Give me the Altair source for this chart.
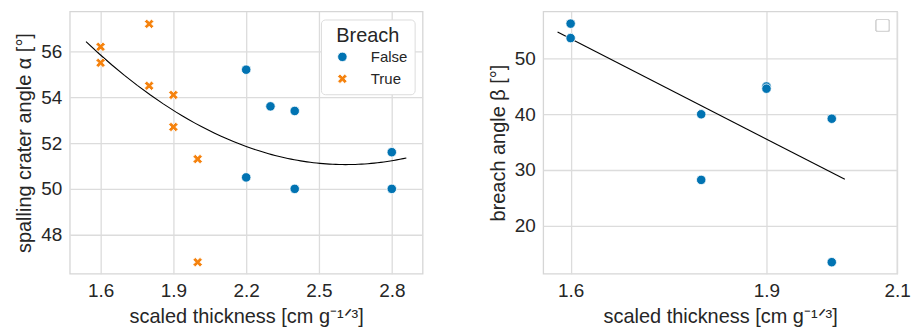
import altair as alt
import pandas as pd

# Spalling crater angle against scaled thickness, split by breach outcome
crater_thickness = [1.6, 1.6, 1.8, 1.8, 1.9, 1.9, 2.0, 2.0,
                    2.2, 2.2, 2.3, 2.4, 2.4, 2.8, 2.8]
crater_angle = [56.2, 55.5, 57.2, 54.5, 54.1, 52.7, 51.3, 46.8,
                55.2, 50.5, 53.6, 53.4, 50.0, 51.6, 50.0]
crater_breach = ["True"] * 8 + ["False"] * 7

# Breach angle against scaled thickness (breached samples only)
breach_thickness = [1.6, 1.6, 1.8, 1.8, 1.9, 1.9, 2.0, 2.0]
breach_angle = [56.3, 53.7, 40.0, 28.2, 45.0, 44.6, 39.2, 13.4]

left_ticks = [1.6, 1.9, 2.2, 2.5, 2.8]
left_yticks = [48, 50, 52, 54, 56]
right_ticks = [1.6, 1.9, 2.1]
right_yticks = [20, 30, 40, 50]

BLUE = "#0173b2"
ORANGE = "#f5820d"
# filled "X" marker
X_SHAPE = ("M-0.5,-1L0,-0.5L0.5,-1L1,-0.5L0.5,0L1,0.5L0.5,1L0,0.5"
           "L-0.5,1L-1,0.5L-0.5,0L-1,-0.5Z")
X_TITLE = "scaled thickness [cm g⁻¹ᐟ³]"

crater = pd.DataFrame({"t": crater_thickness, "a": crater_angle,
                       "Breach": crater_breach})
breach = pd.DataFrame({"t": breach_thickness, "b": breach_angle})

W, H = 354, 263
MARK_SIZE = 90


def x_axis(values):
    return alt.Axis(values=values, format=".1f", labelFlush=False,
                    title=X_TITLE, titlePadding=6)


def y_axis(values, title):
    return alt.Axis(values=values, format="d", title=title, titlePadding=6)


# Left panel: scatter + quadratic fit
lx = alt.X("t:Q", scale=alt.Scale(domain=[1.473, 2.927], nice=False, zero=False),
           axis=x_axis(left_ticks))
ly = alt.Y("a:Q", scale=alt.Scale(domain=[46.3, 57.74], nice=False, zero=False),
           axis=y_axis(left_yticks, "spalling crater angle α [°]"))

left_pts = alt.Chart(crater).mark_point(
    filled=True, opacity=1, stroke="white", strokeWidth=0.8, size=MARK_SIZE
).encode(
    x=lx, y=ly,
    color=alt.Color("Breach:N",
                    scale=alt.Scale(domain=["False", "True"], range=[BLUE, ORANGE]),
                    legend=alt.Legend(orient="top-right", offset=8)),
    shape=alt.Shape("Breach:N",
                    scale=alt.Scale(domain=["False", "True"], range=["circle", X_SHAPE])),
)

left_fit = alt.Chart(crater).transform_regression(
    "t", "a", method="poly", order=2, extent=[1.54, 2.86]
).mark_line(color="black", strokeWidth=1.1).encode(x=lx, y=ly)

left = alt.layer(left_fit, left_pts).properties(width=W, height=H)

# Right panel: scatter + linear fit
rx = alt.X("t:Q", scale=alt.Scale(domain=[1.558, 2.1], nice=False, zero=False),
           axis=x_axis(right_ticks))
ry = alt.Y("b:Q", scale=alt.Scale(domain=[11.34, 58.48], nice=False, zero=False),
           axis=y_axis(right_yticks, "breach angle β [°]"))

right_pts = alt.Chart(breach).mark_point(
    filled=True, opacity=1, color=BLUE, stroke="white", strokeWidth=0.8, size=MARK_SIZE
).encode(x=rx, y=ry)

right_fit = alt.Chart(breach).transform_regression(
    "t", "b", method="linear", extent=[1.58, 2.02]
).mark_line(color="black", strokeWidth=1.1).encode(x=rx, y=ry)

# empty legend frame in the corner
right_box = alt.Chart(breach).mark_rect(
    fill="white", stroke="#d6d6d6", strokeWidth=1.2, cornerRadius=2
).encode(x=alt.value(334), x2=alt.value(347), y=alt.value(8), y2=alt.value(20))

right = alt.layer(right_fit, right_pts, right_box).properties(width=W + 1, height=H)

chart = alt.hconcat(left, right, spacing=64).resolve_legend(
    color="independent", shape="independent"
).resolve_scale(
    color="independent", shape="independent"
).properties(
    padding={"left": 14, "top": 10, "right": 0, "bottom": 0},
    background="white",
).configure_view(
    stroke="#d6d6d6", strokeWidth=1.3
).configure_axis(
    grid=True, gridColor="#dcdcdc", gridWidth=1.3,
    domain=False, ticks=False, labelPadding=8,
    labelFont="Liberation Sans", labelFontSize=19, labelColor="#262626",
    titleFont="Liberation Sans", titleFontSize=20, titleColor="#262626",
    titleFontWeight="normal",
).configure_legend(
    titleFont="Liberation Sans", titleFontSize=20, titleColor="#262626",
    titleFontWeight="normal", titleAnchor="middle", titlePadding=3,
    labelFont="Liberation Sans", labelFontSize=15, labelColor="#262626",
    strokeColor="#dcdcdc", fillColor="white", cornerRadius=4, padding=7,
    symbolOffset=7, labelOffset=21, rowPadding=6, symbolSize=MARK_SIZE,
    symbolStrokeColor="white", symbolStrokeWidth=0.8,
)

chart.save("out.html", embed_options={"renderer": "svg", "actions": False})
